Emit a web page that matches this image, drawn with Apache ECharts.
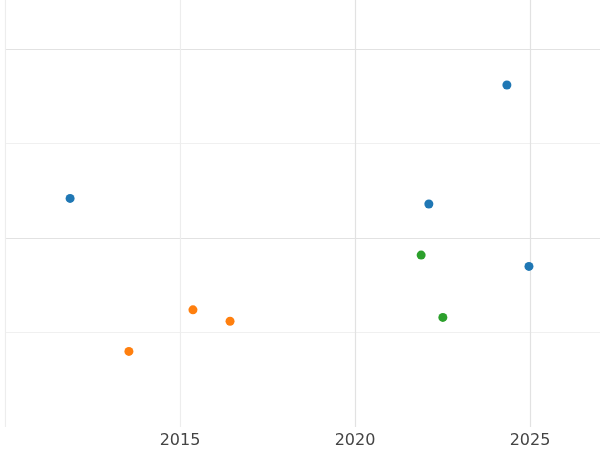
<!DOCTYPE html>
<html>
<head>
<meta charset="utf-8">
<script src="https://cdn.jsdelivr.net/npm/echarts@6/dist/echarts.min.js"></script>
<style>html,body{margin:0;padding:0;background:#fff}</style>
</head>
<body>
<div id="main" style="width:600px;height:450px"></div>
<script>
var blueX = [2024.34, 2011.86, 2022.11, 2024.97];
var blueY = [3.62, 2.42, 2.36, 1.70];
var orangeX = [2015.37, 2016.43, 2013.54];
var orangeY = [1.24, 1.12, 0.80];
var greenX = [2021.89, 2022.51];
var greenY = [1.82, 1.16];
var shownYears = [2015, 2020, 2025];

function pairs(xs, ys) {
    return xs.map(function (x, i) { return [x, ys[i]]; });
}

var chart = echarts.init(document.getElementById('main'));
chart.setOption({
    animation: false,
    grid: { left: 5, right: 0, top: 0, bottom: 23, containLabel: false, outerBoundsMode: 'none' },
    xAxis: {
        type: 'value', min: 2010, max: 2027, interval: 5,
        axisLine: { show: false }, axisTick: { show: false },
        axisLabel: {
            color: '#444', fontSize: 16, fontFamily: 'DejaVu Sans', margin: 6,
            showMaxLabel: false,
            formatter: function (v) { return shownYears.indexOf(v) >= 0 ? v : ''; }
        },
        splitLine: { showMaxLine: false, lineStyle: { color: ['#ededed', '#ededed', '#e2e2e2', '#e2e2e2'], width: 1.2 } }
    },
    yAxis: {
        type: 'value', min: 0, max: 4.52, interval: 1,
        axisLine: { show: false }, axisTick: { show: false }, axisLabel: { show: false },
        splitLine: { showMaxLine: false, showMinLine: false, lineStyle: { color: ['#f0f0f0', '#e2e2e2'], width: 1.2 } }
    },
    series: [
        { type: 'scatter', symbolSize: 9, itemStyle: { color: '#1f77b4', opacity: 1 }, data: pairs(blueX, blueY) },
        { type: 'scatter', symbolSize: 9, itemStyle: { color: '#ff7f0e', opacity: 1 }, data: pairs(orangeX, orangeY) },
        { type: 'scatter', symbolSize: 9, itemStyle: { color: '#2ca02c', opacity: 1 }, data: pairs(greenX, greenY) }
    ]
});
</script>
</body>
</html>
